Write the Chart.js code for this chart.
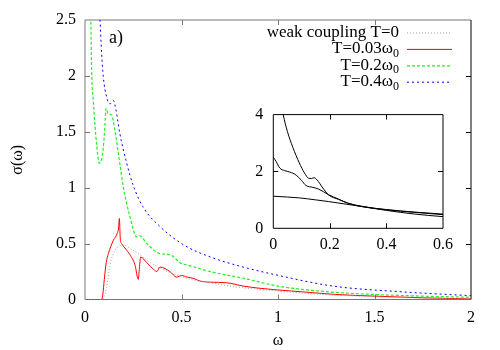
<!DOCTYPE html>
<html>
<head>
<meta charset="utf-8">
<script src="https://cdn.jsdelivr.net/npm/chart.js@4"></script>
<style>
  body { margin: 0; background: #fff; }
  #wrap { position: relative; width: 500px; height: 350px; }
  #mainChart { position: absolute; left: 0; top: 0; }
  #insetChart { position: absolute; left: 240px; top: 95px; }
</style>
</head>
<body>
<div id="wrap">
  <canvas id="mainChart" width="500" height="350"></canvas>
  <canvas id="insetChart" width="220" height="165"></canvas>
</div>
<script>
// main panel series
const weakX = [0, 0.09, 0.1, 0.112, 0.13, 0.155, 0.175, 0.2, 0.24, 0.285, 0.33, 0.389, 0.475, 0.56, 0.65, 0.75, 0.907, 1.0, 1.285, 1.5, 1.75, 2.0];
const weakY = [0, 0, 0.03, 0.11, 0.31, 0.44, 0.475, 0.487, 0.45, 0.40, 0.34, 0.28, 0.22, 0.175, 0.15, 0.12, 0.09, 0.075, 0.04, 0.025, 0.012, 0.005];

const redX = [0, 0.085, 0.092, 0.1, 0.11, 0.121, 0.147, 0.167, 0.174, 0.178, 0.183, 0.19, 0.207, 0.233, 0.259, 0.276, 0.282, 0.288, 0.32, 0.355, 0.372, 0.389, 0.44, 0.475, 0.5, 0.53, 0.56, 0.596, 0.65, 0.734, 0.82, 0.907, 1.0, 1.15, 1.3, 1.5, 1.75, 2.0];
const redY = [0, 0, 0.04, 0.18, 0.33, 0.41, 0.53, 0.59, 0.64, 0.725, 0.54, 0.5, 0.46, 0.4, 0.31, 0.18, 0.28, 0.38, 0.33, 0.27, 0.25, 0.29, 0.25, 0.2, 0.215, 0.2, 0.19, 0.165, 0.155, 0.15, 0.12, 0.1, 0.085, 0.065, 0.045, 0.03, 0.015, 0.005];

const greenX = [0, 0.015, 0.03, 0.035, 0.043, 0.052, 0.06, 0.074, 0.085, 0.095, 0.103, 0.109, 0.12, 0.138, 0.155, 0.18, 0.198, 0.233, 0.268, 0.285, 0.32, 0.389, 0.44, 0.5, 0.527, 0.648, 0.82, 1.0, 1.25, 1.5, 1.75, 2.0];
const greenY = [3.6, 3.0, 2.5, 2.0, 1.78, 1.55, 1.39, 1.22, 1.25, 1.36, 1.55, 1.71, 1.66, 1.65, 1.51, 1.22, 1.01, 0.74, 0.56, 0.57, 0.5, 0.41, 0.4, 0.32, 0.31, 0.25, 0.19, 0.12, 0.07, 0.045, 0.03, 0.02];

const blueX = [0.03, 0.05, 0.065, 0.078, 0.086, 0.095, 0.112, 0.13, 0.147, 0.16, 0.18, 0.216, 0.25, 0.3, 0.39, 0.51, 0.65, 0.82, 0.99, 1.285, 1.63, 2.0];
const blueY = [4.2, 3.4, 2.9, 2.5, 2.2, 1.99, 1.81, 1.75, 1.78, 1.7, 1.49, 1.22, 1.02, 0.83, 0.65, 0.49, 0.38, 0.29, 0.22, 0.12, 0.07, 0.034];

const seriesLabels = ['weak coupling T=0', 'T=0.03ω', 'T=0.2ω', 'T=0.4ω'];
const seriesSubs = ['', '0', '0', '0'];

// inset series
const insetAX = [0, 0.02, 0.035, 0.05, 0.069, 0.092, 0.11, 0.125, 0.135, 0.144, 0.155, 0.175, 0.196, 0.23, 0.265, 0.31, 0.4, 0.5, 0.6];
const insetAY = [6, 4.8, 4.0, 3.4, 2.85, 2.3, 1.95, 1.76, 1.75, 1.78, 1.7, 1.42, 1.17, 1.02, 0.88, 0.77, 0.66, 0.57, 0.5];
const insetBX = [0, 0.01, 0.023, 0.04, 0.058, 0.081, 0.1, 0.115, 0.14, 0.16, 0.196, 0.23, 0.265, 0.31, 0.4, 0.5, 0.6];
const insetBY = [2.5, 2.35, 2.12, 2.03, 1.98, 1.87, 1.68, 1.51, 1.44, 1.38, 1.18, 1.03, 0.88, 0.78, 0.65, 0.56, 0.48];
const insetCX = [0, 0.05, 0.092, 0.15, 0.196, 0.25, 0.31, 0.4, 0.5, 0.6];
const insetCY = [1.13, 1.1, 1.07, 1.0, 0.94, 0.86, 0.77, 0.63, 0.5, 0.41];

const serif = "'Liberation Serif', 'Times New Roman', serif";

function pts(xs, ys) {
  return xs.map((x, i) => ({x: x, y: ys[i]}));
}

function plain(v) {
  return String(Math.round(v * 100) / 100);
}

// box round the plot with inward tick marks (gnuplot style)
const framePlugin = {
  id: 'frame',
  beforeDatasetsDraw(chart, args, opts) {
    const {ctx, chartArea: a, scales: {x, y}} = chart;
    const len = opts.tickLen || 5;
    ctx.save();
    ctx.lineWidth = 1;
    const side = (col, x1, y1, x2, y2) => {
      ctx.strokeStyle = col;
      ctx.beginPath(); ctx.moveTo(x1, y1); ctx.lineTo(x2, y2); ctx.stroke();
    };
    side(opts.top, a.left, a.top, a.right, a.top);
    side(opts.bottom, a.left, a.bottom, a.right, a.bottom);
    side(opts.left, a.left, a.top, a.left, a.bottom);
    side(opts.right, a.right, a.top, a.right, a.bottom);
    x.ticks.forEach(t => {
      if (t.value <= x.min || t.value >= x.max) return;
      const px = Math.round(x.getPixelForValue(t.value)) + 0.5;
      side(opts.bottom, px, a.bottom, px, a.bottom - len);
      side(opts.top, px, a.top, px, a.top + len);
    });
    y.ticks.forEach(t => {
      if (t.value <= y.min || t.value >= y.max) return;
      const py = Math.round(y.getPixelForValue(t.value)) + 0.5;
      side(opts.left, a.left, py, a.left + len, py);
      side(opts.right, a.right, py, a.right - len, py);
    });
    ctx.restore();
  }
};

// right-aligned key with samples on the right, subscript after omega
const keyPlugin = {
  id: 'key',
  afterDraw(chart, args, opts) {
    if (!opts.display) return;
    const ctx = chart.ctx;
    ctx.save();
    chart.data.datasets.forEach((ds, i) => {
      const yRow = opts.top + i * opts.rowGap;
      const sub = seriesSubs[i];
      let subW = 0;
      if (sub) {
        ctx.font = '12px ' + serif;
        subW = ctx.measureText(sub).width;
      }
      ctx.font = '17px ' + serif;
      ctx.fillStyle = '#000';
      ctx.textAlign = 'right';
      ctx.textBaseline = 'middle';
      ctx.fillText(seriesLabels[i], opts.textRight - subW, yRow);
      if (sub) {
        ctx.font = '12px ' + serif;
        ctx.fillText(sub, opts.textRight, yRow + 5);
      }
      ctx.strokeStyle = ds.borderColor;
      ctx.lineWidth = ds.borderWidth;
      ctx.setLineDash(ds.borderDash || []);
      ctx.beginPath();
      ctx.moveTo(opts.lineStart, yRow + 0.5);
      ctx.lineTo(opts.lineEnd, yRow + 0.5);
      ctx.stroke();
      ctx.setLineDash([]);
    });
    // panel tag
    ctx.font = '18px ' + serif;
    ctx.textAlign = 'left';
    ctx.fillText('a)', 109, 38);
    ctx.restore();
  }
};

const tickFont = {family: serif, size: 16};

var mainChart = new Chart(document.getElementById('mainChart').getContext('2d'), {
  type: 'line',
  data: {
    datasets: [
      {label: seriesLabels[0], data: pts(weakX, weakY), borderColor: '#a0a0a0', borderWidth: 1, borderDash: [1, 2]},
      {label: seriesLabels[1] + seriesSubs[1], data: pts(redX, redY), borderColor: '#ff0000', borderWidth: 1},
      {label: seriesLabels[2] + seriesSubs[2], data: pts(greenX, greenY), borderColor: '#22ee22', borderWidth: 1.2, borderDash: [3, 2]},
      {label: seriesLabels[3] + seriesSubs[3], data: pts(blueX, blueY), borderColor: '#0000ff', borderWidth: 1, borderDash: [2, 3]}
    ]
  },
  options: {
    responsive: false,
    animation: false,
    elements: {point: {radius: 0}, line: {cubicInterpolationMode: 'monotone'}},
    layout: {padding: {top: 20, right: 29, left: 0, bottom: 0}},
    scales: {
      x: {
        type: 'linear', min: 0, max: 2,
        afterFit: s => { s.height = 50.5; },
        grid: {display: false, drawTicks: false},
        border: {display: false},
        ticks: {stepSize: 0.5, padding: 9, color: '#000', font: tickFont, maxRotation: 0, callback: plain},
        title: {display: true, text: 'ω', color: '#000', font: tickFont, padding: {top: 0, bottom: 0}}
      },
      y: {
        type: 'linear', min: 0, max: 2.5,
        afterFit: s => { s.width = 85; },
        grid: {display: false, drawTicks: false},
        border: {display: false},
        ticks: {stepSize: 0.5, padding: 9, color: '#000', font: tickFont, callback: plain},
        title: {display: true, text: 'σ(ω)', color: '#000', font: tickFont, padding: {top: 8, bottom: 0}}
      }
    },
    plugins: {
      legend: {display: false},
      tooltip: {enabled: false},
      frame: {top: '#777', bottom: '#777', left: '#777', right: '#000', tickLen: 5},
      key: {display: true, top: 32.5, rowGap: 16.4, textRight: 399, lineStart: 407, lineEnd: 452}
    }
  },
  plugins: [framePlugin, keyPlugin]
});

var insetChart = new Chart(document.getElementById('insetChart').getContext('2d'), {
  type: 'line',
  data: {
    datasets: [
      {data: pts(insetAX, insetAY), borderColor: '#000', borderWidth: 1},
      {data: pts(insetBX, insetBY), borderColor: '#000', borderWidth: 1},
      {data: pts(insetCX, insetCY), borderColor: '#000', borderWidth: 1}
    ]
  },
  options: {
    responsive: false,
    animation: false,
    elements: {point: {radius: 0}, line: {cubicInterpolationMode: 'monotone'}},
    layout: {padding: {top: 12.3, right: 13.3, left: 0, bottom: 0}},
    scales: {
      x: {
        type: 'linear', min: 0, max: 0.6,
        afterFit: s => { s.height = 31.7; },
        grid: {display: false, drawTicks: false},
        border: {display: false},
        ticks: {stepSize: 0.2, padding: 7, color: '#000', font: tickFont, maxRotation: 0, callback: plain}
      },
      y: {
        type: 'linear', min: 0, max: 4,
        afterFit: s => { s.width = 33.3; },
        grid: {display: false, drawTicks: false},
        border: {display: false},
        ticks: {stepSize: 2, padding: 10, color: '#000', font: tickFont, callback: plain}
      }
    },
    plugins: {
      legend: {display: false},
      tooltip: {enabled: false},
      frame: {top: '#000', bottom: '#000', left: '#000', right: '#000', tickLen: 5},
      key: {display: false}
    }
  },
  plugins: [framePlugin, keyPlugin]
});
</script>
</body>
</html>
